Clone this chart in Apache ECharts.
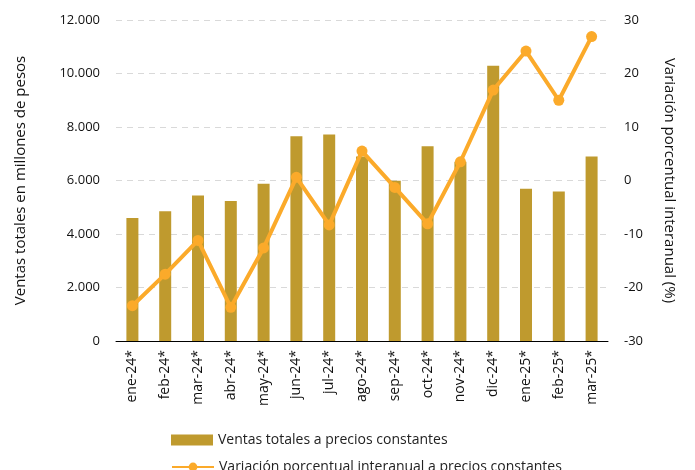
<!DOCTYPE html>
<html><head><meta charset="utf-8">
<script src="https://cdn.jsdelivr.net/npm/echarts@6/dist/echarts.min.js"></script>
<style>html,body{margin:0;padding:0;background:#fff}#c{width:695px;height:470px}</style>
</head><body><div id="c"></div>
<script>
const categories = ["ene-24*","feb-24*","mar-24*","abr-24*","may-24*","jun-24*","jul-24*","ago-24*","sep-24*","oct-24*","nov-24*","dic-24*","ene-25*","feb-25*","mar-25*"];
const ventas = [4600, 4850, 5440, 5230, 5880, 7650, 7720, 6900, 5990, 7280, 6700, 10290, 5690, 5590, 6900];
const variacion = [-23.4, -17.5, -11.2, -23.7, -12.6, 0.6, -8.3, 5.5, -1.3, -8.1, 3.5, 16.9, 24.2, 15.0, 26.9];
const leftTicks = {min: 0, max: 12000, interval: 2000};
const rightTicks = {min: -30, max: 30, interval: 10};

const fnt = "'Open Sans', 'Noto Sans', sans-serif";
const barName = 'Ventas totales a precios constantes';
const lineName = 'Variación porcentual interanual a precios constantes';
const chart = echarts.init(document.getElementById('c'), null, {renderer: 'canvas'});
const legendText = {fontFamily: fnt, fontSize: 14, color: '#222'};
chart.setOption({
  animation: false,
  textStyle: {fontFamily: fnt},
  grid: {left: 116, right: 87, top: 20, bottom: 129},
  legend: [
    {left: 166, top: 428, itemWidth: 42, itemHeight: 11, itemGap: 4,
     textStyle: legendText, data: [{name: barName, icon: 'rect'}]},
    {left: 166, top: 455, itemWidth: 42, itemHeight: 11, itemGap: 4,
     textStyle: legendText, data: [{name: lineName}]}
  ],
  xAxis: {
    type: 'category', data: categories,
    axisLine: {lineStyle: {color: '#000', width: 1}},
    axisTick: {show: false},
    axisLabel: {rotate: 90, fontSize: 14, color: '#111', margin: 9, fontFamily: fnt}
  },
  yAxis: [
    {
      type: 'value', min: leftTicks.min, max: leftTicks.max, interval: leftTicks.interval,
      name: 'Ventas totales en millones de pesos', nameLocation: 'middle', nameRotate: 90, nameGap: 88,
      nameTextStyle: {fontSize: 15, color: '#111', fontFamily: fnt},
      axisLine: {show: false}, axisTick: {show: false},
      axisLabel: {fontSize: 13, color: '#111', margin: 16, fontFamily: fnt,
        formatter: v => v.toLocaleString('de-DE')},
      splitLine: {lineStyle: {color: '#d9d9d9', type: [6, 5], width: 1}}
    },
    {
      type: 'value', min: rightTicks.min, max: rightTicks.max, interval: rightTicks.interval,
      name: 'Variación porcentual interanual (%)', nameLocation: 'middle', nameRotate: -90, nameGap: 54,
      nameTextStyle: {fontSize: 15, color: '#111', fontFamily: fnt},
      axisLine: {show: false}, axisTick: {show: false},
      axisLabel: {fontSize: 13, color: '#111', margin: 16, fontFamily: fnt},
      splitLine: {show: false}
    }
  ],
  series: [
    {
      name: barName, type: 'bar', data: ventas,
      yAxisIndex: 0, barWidth: 12,
      itemStyle: {color: '#BF9A2E'}
    },
    {
      name: lineName, type: 'line', data: variacion,
      yAxisIndex: 1, symbol: 'circle', symbolSize: 11,
      lineStyle: {color: '#FBAA2A', width: 4},
      itemStyle: {color: '#FBAA2A'}
    }
  ]
});
</script></body></html>
